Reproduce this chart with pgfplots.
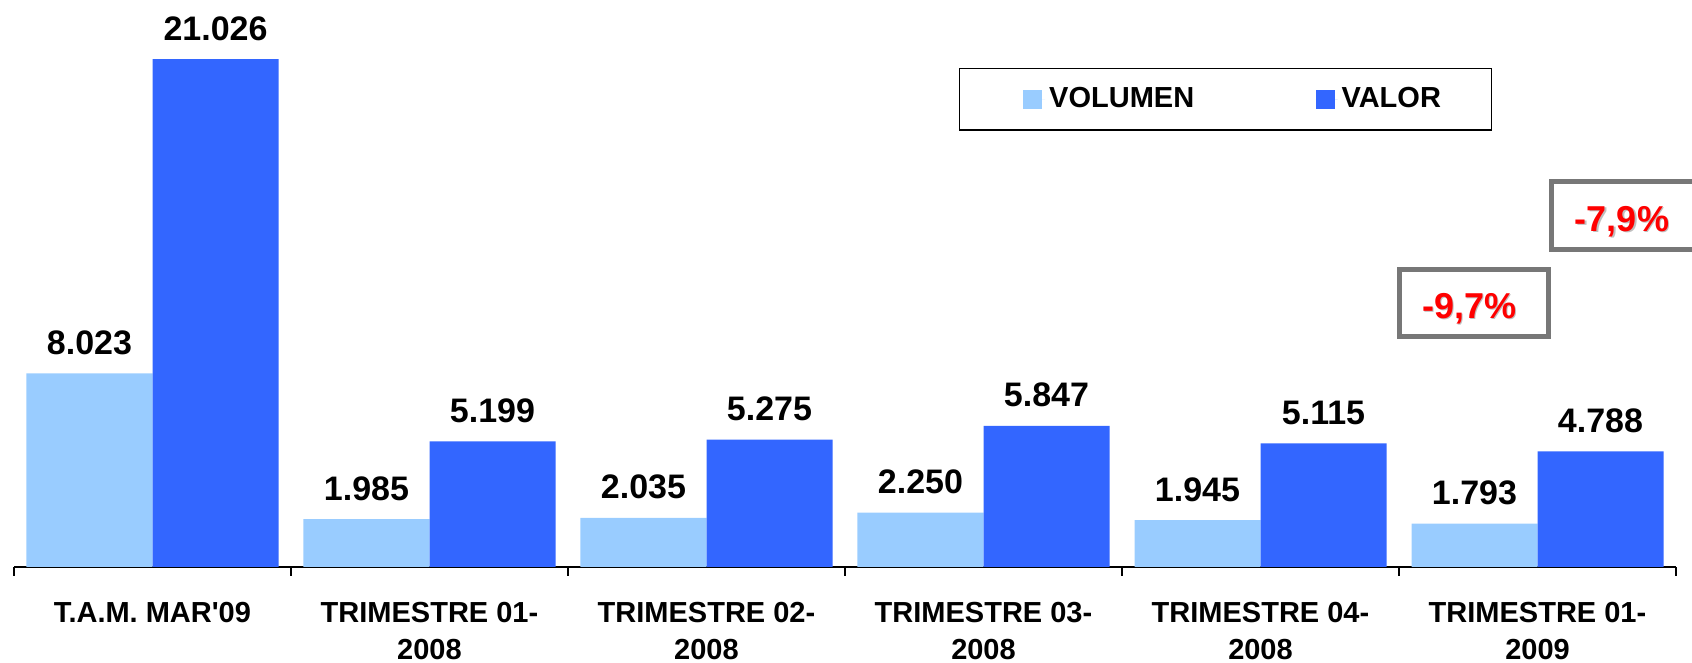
\documentclass[border=0pt]{standalone}
\usepackage{fontspec}
\setmainfont{Liberation Sans}
\usepackage{pgfplots}
\pgfplotsset{compat=1.18}
\definecolor{volc}{HTML}{99CCFF}
\definecolor{valc}{HTML}{3366FF}
\definecolor{boxgray}{HTML}{777777}
\definecolor{pctred}{HTML}{FF0000}
\begin{document}
\begin{tikzpicture}
\begin{axis}[
  at={(7pt,48pt)}, anchor=south west,
  scale only axis, width=831pt, height=283.5pt,
  xmin=-0.5, xmax=5.5, ymin=0, ymax=23.48,
  axis x line*=bottom, axis y line=none,
  axis line style={line width=0.75pt, black},
  ybar, bar width=0.4549,
  xtick={0,1,2,3,4,5},
  xticklabels={{T.A.M. MAR\textquotesingle 09},{TRIMESTRE 01-\\2008},{TRIMESTRE 02-\\2008},{TRIMESTRE 03-\\2008},{TRIMESTRE 04-\\2008},{TRIMESTRE 01-\\2009}},
  major tick length=0pt,
  extra x ticks={-0.5,0.5,1.5,2.5,3.5,4.5,5.5},
  extra x tick labels={,,,,,,},
  extra x tick style={major tick length=4.5pt, tick align=outside, tick style={line width=0.75pt, black}},
  xticklabel style={font=\fontsize{14.5}{18.5}\selectfont\bfseries, align=center, anchor=north, inner sep=0pt, yshift=-17.5pt},
  clip=false,
  nodes near coords={\pgfmathprintnumber[fixed,fixed zerofill,precision=3,assume math mode=true]{\pgfplotspointmeta}},
  nodes near coords style={font=\fontsize{17}{20}\selectfont\bfseries, anchor=base, yshift=9.5pt, inner sep=0pt, text=black},
  legend columns=2, legend cell align=left,
  legend image code/.code={\fill[#1,draw=none] (0pt,-4.75pt) rectangle (9.5pt,4.75pt);\path (0pt,0pt) -- (10.85pt,0pt);},
  legend style={at={(0.5684,0.8806)}, anchor=north west, draw=black, line width=0.8pt,
    inner xsep=32pt, inner ysep=7.6pt, font=\fontsize{14.5}{17}\selectfont\bfseries,
    /tikz/every even column/.append style={column sep=58.85pt}},
]
\addplot[fill=volc, draw=none, bar shift=-0.22745] coordinates {(0,8.023) (1,1.985) (2,2.035) (3,2.250) (4,1.945) (5,1.793)};
\addlegendentry{VOLUMEN}
\addplot[fill=valc, draw=none, bar shift=0.22745] coordinates {(0,21.026) (1,5.199) (2,5.275) (3,5.847) (4,5.115) (5,4.788)};
\addlegendentry{VALOR\hspace*{-8.7pt}}

\draw[boxgray, line width=2.3pt] (axis cs:4.501,9.54) rectangle (axis cs:5.040,12.33);
\node[anchor=base, text=black!25, font=\fontsize{18}{20}\selectfont\bfseries] at ([shift={(0.7pt,-0.7pt)}]axis cs:4.753,10.31) {-9,7\%};
\node[anchor=base, text=pctred, font=\fontsize{18}{20}\selectfont\bfseries] at (axis cs:4.753,10.31) {-9,7\%};

\draw[boxgray, line width=2.3pt] (axis cs:5.050,13.14) rectangle (axis cs:5.589,15.97);
\node[anchor=base, text=black!25, font=\fontsize{18}{20}\selectfont\bfseries] at ([shift={(0.7pt,-0.7pt)}]axis cs:5.305,13.91) {-7,9\%};
\node[anchor=base, text=pctred, font=\fontsize{18}{20}\selectfont\bfseries] at (axis cs:5.305,13.91) {-7,9\%};
\end{axis}
\pgfresetboundingbox
\path (0,0) rectangle (846pt,331.5pt);
\end{tikzpicture}
\end{document}
